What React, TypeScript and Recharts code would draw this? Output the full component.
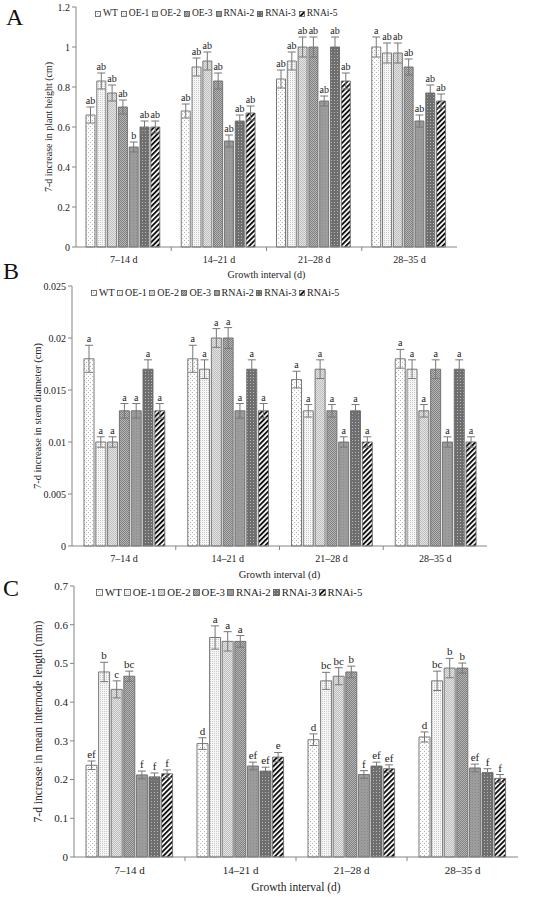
import type { JSX } from 'react';
import { BarChart, Bar, XAxis, YAxis, ErrorBar, Legend, Rectangle } from 'recharts';

const intervals = ['7–14 d', '14–21 d', '21–28 d', '28–35 d'];
const lines = ['WT', 'OE-1', 'OE-2', 'OE-3', 'RNAi-2', 'RNAi-3', 'RNAi-5'];

// one row per interval, one column per line (same order as `lines`)
const heightMeans = [
    [0.66, 0.83, 0.77, 0.70, 0.50, 0.60, 0.60],
    [0.68, 0.90, 0.93, 0.83, 0.53, 0.63, 0.67],
    [0.84, 0.93, 1.00, 1.00, 0.73, 1.00, 0.83],
    [1.00, 0.97, 0.97, 0.90, 0.63, 0.77, 0.73],
];
const heightErrors = [
    [0.04, 0.04, 0.04, 0.035, 0.025, 0.03, 0.03],
    [0.035, 0.045, 0.045, 0.04, 0.03, 0.03, 0.035],
    [0.045, 0.045, 0.05, 0.05, 0.025, 0.05, 0.04],
    [0.05, 0.05, 0.05, 0.04, 0.03, 0.04, 0.035],
];
const heightLetters = [
    ['ab', 'ab', 'ab', 'ab', 'b', 'ab', 'ab'],
    ['ab', 'ab', 'ab', 'ab', 'ab', 'ab', 'ab'],
    ['ab', 'ab', 'ab', 'ab', 'ab', 'ab', 'ab'],
    ['a', 'ab', 'ab', 'ab', 'ab', 'ab', 'ab'],
];
const heightTicks = [0, 0.2, 0.4, 0.6, 0.8, 1, 1.2];

const diameterMeans = [
    [0.018, 0.010, 0.010, 0.013, 0.013, 0.017, 0.013],
    [0.018, 0.017, 0.020, 0.020, 0.013, 0.017, 0.013],
    [0.016, 0.013, 0.017, 0.013, 0.010, 0.013, 0.010],
    [0.018, 0.017, 0.013, 0.017, 0.010, 0.017, 0.010],
];
const diameterErrors = [
    [0.0013, 0.0005, 0.0005, 0.0007, 0.0007, 0.0009, 0.0007],
    [0.0013, 0.0009, 0.0009, 0.001, 0.0007, 0.0009, 0.0007],
    [0.0008, 0.0006, 0.0009, 0.0006, 0.0005, 0.0006, 0.0005],
    [0.0009, 0.0009, 0.0006, 0.0009, 0.0005, 0.0009, 0.0005],
];
const diameterLetters = [
    ['a', 'a', 'a', 'a', 'a', 'a', 'a'],
    ['a', 'a', 'a', 'a', 'a', 'a', 'a'],
    ['a', 'a', 'a', 'a', 'a', 'a', 'a'],
    ['a', 'a', 'a', 'a', 'a', 'a', 'a'],
];
const diameterTicks = [0, 0.005, 0.01, 0.015, 0.02, 0.025];

const internodeMeans = [
    [0.237, 0.478, 0.433, 0.467, 0.212, 0.207, 0.215],
    [0.293, 0.567, 0.557, 0.557, 0.235, 0.222, 0.258],
    [0.303, 0.455, 0.467, 0.478, 0.213, 0.235, 0.228],
    [0.310, 0.455, 0.488, 0.488, 0.230, 0.218, 0.203],
];
const internodeErrors = [
    [0.011, 0.025, 0.022, 0.013, 0.01, 0.01, 0.01],
    [0.015, 0.03, 0.025, 0.015, 0.01, 0.01, 0.012],
    [0.015, 0.022, 0.022, 0.015, 0.01, 0.01, 0.01],
    [0.013, 0.025, 0.025, 0.013, 0.01, 0.01, 0.01],
];
const internodeLetters = [
    ['ef', 'b', 'c', 'bc', 'f', 'f', 'f'],
    ['d', 'a', 'a', 'a', 'ef', 'ef', 'e'],
    ['d', 'bc', 'bc', 'b', 'f', 'ef', 'ef'],
    ['d', 'bc', 'b', 'b', 'ef', 'f', 'f'],
];
const internodeTicks = [0, 0.1, 0.2, 0.3, 0.4, 0.5, 0.6, 0.7];

const FONT = '"Liberation Serif", "Times New Roman", serif';
const AXIS = '#858585';
const INK = '#222';

interface Panel {
    id: string;
    letter: string;
    top: number;
    height: number;
    plotTop: number;
    plotBottom: number;
    left: number;
    right: number;
    means: number[][];
    errors: number[][];
    letters: string[][];
    ticks: number[];
    yLabel: string;
    yLabelX: number;
    tickFont: number;
    labelFont: number;
    markFont: number;
    tickOffset: number;
    titleOffset: number;
    legendTop: number;
    legendLeft: number;
    legendFont: number;
    legendGap: number;
    swatch: number;
    catGap: number;
    barGap: number;
    letterX: number;
    letterY: number;
}

const panels: Panel[] = [
    {
        id: 'a', letter: 'A', top: 0, height: 282, plotTop: 7, plotBottom: 247, left: 76, right: 457,
        means: heightMeans, errors: heightErrors, letters: heightLetters, ticks: heightTicks,
        yLabel: '7-d increase in plant height (cm)', yLabelX: 48,
        tickFont: 10, labelFont: 10, markFont: 10, tickOffset: 15.5, titleOffset: 30.5,
        legendTop: 8, legendLeft: 95, legendFont: 9.5, legendGap: 3, swatch: 6, catGap: 10, barGap: 1.8,
        letterX: 6, letterY: 25,
    },
    {
        id: 'b', letter: 'B', top: 280, height: 300, plotTop: 6, plotBottom: 266, left: 72, right: 487,
        means: diameterMeans, errors: diameterErrors, letters: diameterLetters, ticks: diameterTicks,
        yLabel: '7-d increase in stem diameter (cm)', yLabelX: 37,
        tickFont: 10, labelFont: 10.5, markFont: 10, tickOffset: 15.5, titleOffset: 31.5,
        legendTop: 7, legendLeft: 91, legendFont: 10, legendGap: 2.5, swatch: 6, catGap: 12, barGap: 1.8,
        letterX: 3, letterY: 279,
    },
    {
        id: 'c', letter: 'C', top: 575, height: 322, plotTop: 11, plotBottom: 282, left: 74, right: 518,
        means: internodeMeans, errors: internodeErrors, letters: internodeLetters, ticks: internodeTicks,
        yLabel: '7-d increase in mean internode length (mm)', yLabelX: 38,
        tickFont: 11, labelFont: 11.5, markFont: 11, tickOffset: 17, titleOffset: 34,
        legendTop: 11, legendLeft: 96, legendFont: 10.8, legendGap: 2, swatch: 7, catGap: 12, barGap: 1.6,
        letterX: 3, letterY: 596,
    },
];

const fmt = (v: number): string => String(Number(v.toFixed(3)));

function renderPatterns (id: string): JSX.Element {
    return (
        <defs>
            <pattern id={`${id}-p0`} width={4} height={4} patternUnits="userSpaceOnUse">
                <rect width={4} height={4} fill="#fdfdfd" />
                <rect x={0} y={0} width={1} height={1} fill="#b4b4b4" />
                <rect x={2} y={2} width={1} height={1} fill="#b4b4b4" />
            </pattern>
            <pattern id={`${id}-p1`} width={2} height={2} patternUnits="userSpaceOnUse">
                <rect width={2} height={2} fill="#f6f6f6" />
                <rect x={0} y={0} width={1} height={1} fill="#c8c8c8" />
            </pattern>
            <pattern id={`${id}-p2`} width={2} height={2} patternUnits="userSpaceOnUse">
                <rect width={2} height={2} fill="#e4e4e4" />
                <rect x={0} y={0} width={1} height={1} fill="#bebebe" />
                <rect x={1} y={1} width={1} height={1} fill="#bebebe" />
            </pattern>
            <pattern id={`${id}-p3`} width={2} height={2} patternUnits="userSpaceOnUse">
                <rect width={2} height={2} fill="#b6b6b6" />
                <rect x={0} y={0} width={1} height={1} fill="#808080" />
                <rect x={1} y={1} width={1} height={1} fill="#808080" />
            </pattern>
            <pattern id={`${id}-p4`} width={3} height={3} patternUnits="userSpaceOnUse">
                <rect width={3} height={3} fill="#9c9c9c" />
                <rect x={1} y={1} width={1} height={1} fill="#8a8a8a" />
            </pattern>
            <pattern id={`${id}-p5`} width={3} height={3} patternUnits="userSpaceOnUse">
                <rect width={3} height={3} fill="#6e6e6e" />
                <rect x={1} y={1} width={1} height={1} fill="#b8b8b8" />
            </pattern>
            <pattern id={`${id}-p6`} width={3.6} height={3.6} patternUnits="userSpaceOnUse" patternTransform="rotate(45)">
                <rect width={3.6} height={3.6} fill="#ffffff" />
                <rect width={1.9} height={3.6} fill="#111111" />
            </pattern>
        </defs>
    );
}

function PanelChart ({ p }: { p: Panel }): JSX.Element {
    const rows = intervals.map((interval, r) => {
        const row: Record<string, string | number> = { interval };
        lines.forEach((_, c) => {
            row[`v${c}`] = p.means[r][c];
            row[`e${c}`] = p.errors[r][c];
            row[`l${c}`] = p.letters[r][c];
        });
        return row;
    });
    const band = (p.right - p.left) / intervals.length;

    const barShape = (c: number) => (s: any): JSX.Element => {
        const val = Number(s.payload[`v${c}`]);
        const err = Number(s.payload[`e${c}`]);
        const errPx = val ? (s.height * err) / val : 0;
        return (
            <g>
                <Rectangle x={s.x} y={s.y} width={s.width} height={s.height}
                    fill={`url(#${p.id}-p${c})`} stroke="#6a6a6a" strokeWidth={0.9} />
                <text x={s.x + s.width / 2} y={s.y - errPx - 3} textAnchor="middle"
                    fontSize={p.markFont} fontFamily={FONT} fill={INK}>
                    {s.payload[`l${c}`]}
                </text>
            </g>
        );
    };

    const xTick = (t: any): JSX.Element => (
        <g>
            <text x={t.x} y={t.y + p.tickOffset} textAnchor="middle" fontSize={p.tickFont} fontFamily={FONT} fill={INK}>
                {t.payload.value}
            </text>
            {t.index < intervals.length - 1 &&
                <line x1={t.x + band / 2} x2={t.x + band / 2} y1={t.y} y2={t.y + 4} stroke={AXIS} />}
        </g>
    );

    const legend = (): JSX.Element => (
        <div style={{ display: 'flex', fontFamily: FONT, fontSize: p.legendFont, lineHeight: `${p.legendFont + 2}px`, color: INK, whiteSpace: 'nowrap' }}>
            {lines.map((name, c) => (
                <span key={name} style={{ display: 'inline-flex', alignItems: 'center', marginRight: p.legendGap }}>
                    <svg width={p.swatch} height={p.swatch} style={{ marginRight: 2 }}>
                        <rect x={0.5} y={0.5} width={p.swatch - 1} height={p.swatch - 1}
                            fill={`url(#${p.id}-p${c})`} stroke="#555" strokeWidth={0.8} />
                    </svg>
                    {name}
                </span>
            ))}
        </div>
    );

    return (
        <div style={{ position: 'absolute', left: 0, top: p.top }}>
            <BarChart width={550} height={p.height} data={rows}
                margin={{ top: p.plotTop, right: 550 - p.right, bottom: 0, left: 0 }}
                barCategoryGap={p.catGap} barGap={p.barGap}>
                {renderPatterns(p.id)}
                <XAxis dataKey="interval" interval={0} height={p.height - p.plotBottom}
                    stroke={AXIS} tickLine={false} tickSize={0} tickMargin={0} tick={xTick}
                    label={{
                        content: () => (
                            <text x={(p.left + p.right) / 2} y={p.plotBottom + p.titleOffset} textAnchor="middle"
                                fontSize={p.labelFont} fontFamily={FONT} fill={INK}>
                                Growth interval (d)
                            </text>
                        ),
                    }} />
                <YAxis type="number" width={p.left} domain={[0, p.ticks[p.ticks.length - 1]]} ticks={p.ticks}
                    interval={0} tickFormatter={fmt} stroke={AXIS} tickSize={4} tickMargin={2}
                    tick={{ fontSize: p.tickFont, fontFamily: FONT, fill: INK }}
                    label={{
                        content: () => {
                            const cy = (p.plotTop + p.plotBottom) / 2;
                            return (
                                <text x={p.yLabelX} y={cy} textAnchor="middle" dominantBaseline="central"
                                    transform={`rotate(-90 ${p.yLabelX} ${cy})`}
                                    fontSize={p.labelFont} fontFamily={FONT} fill={INK}>
                                    {p.yLabel}
                                </text>
                            );
                        },
                    }} />
                <Legend layout="horizontal" verticalAlign="middle" align="center" content={legend}
                    wrapperStyle={{ top: p.legendTop, left: p.legendLeft, width: 'auto' }} />
                {lines.map((name, c) => (
                    <Bar key={name} dataKey={`v${c}`} name={name} isAnimationActive={false} shape={barShape(c)}>
                        <ErrorBar dataKey={`e${c}`} width={4} stroke="#777" strokeWidth={1} direction="y" isAnimationActive={false} />
                    </Bar>
                ))}
            </BarChart>
        </div>
    );
}

export default function App (): JSX.Element {
    return (
        <div style={{ position: 'absolute', left: 0, top: 0, width: 550, height: 897, background: '#fff', fontFamily: FONT }}>
            {panels.map((p) => <PanelChart key={p.id} p={p} />)}
            {panels.map((p) => (
                <div key={`t-${p.id}`} style={{ position: 'absolute', left: p.letterX, top: p.letterY - 21, fontSize: 24, lineHeight: '26px', color: '#111' }}>
                    {p.letter}
                </div>
            ))}
        </div>
    );
}
